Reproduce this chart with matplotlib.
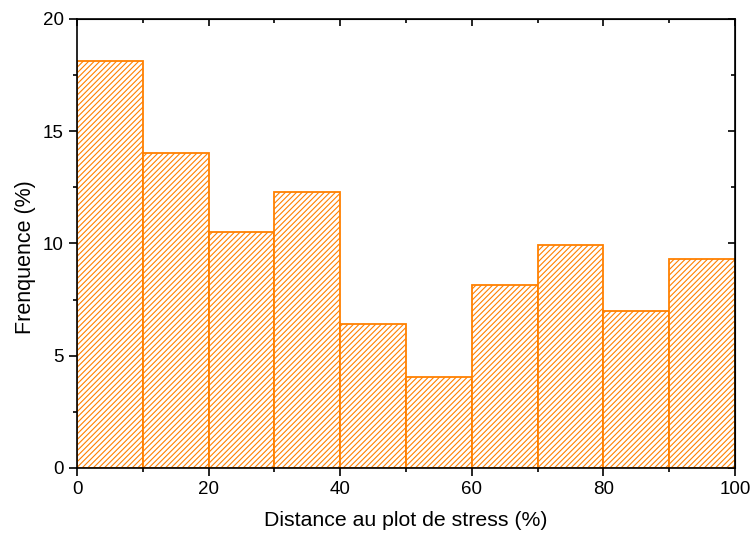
import matplotlib
matplotlib.use("Agg")
from matplotlib import pyplot as plt
from matplotlib.ticker import MultipleLocator
import numpy as np

bin_edges = [0, 10, 20, 30, 40, 50, 60, 70, 80, 90, 100]
freq = [18.13, 14.03, 10.51, 12.29, 6.41, 4.06, 8.15, 9.93, 6.99, 9.31]
x_label = "Distance au plot de stress (%)"
y_label = "Frenquence (%)"

plt.rcParams['font.family'] = ['Liberation Sans', 'DejaVu Sans']
plt.rcParams['hatch.linewidth'] = 0.8
plt.rcParams['hatch.color'] = '#FF9A33'

fig = plt.figure(figsize=(7.53, 5.36), dpi=100)
ax = fig.add_axes([0.1023, 0.1269, 0.8737, 0.8377])

left = np.array(bin_edges[:-1])
width = np.diff(bin_edges)
ax.bar(left, freq, width=width, align='edge', facecolor='white',
       edgecolor='#FF8000', linewidth=1.3, hatch='//////')

ax.set_xlim(0, 100)
ax.set_ylim(0, 20)
ax.xaxis.set_major_locator(MultipleLocator(20))
ax.xaxis.set_minor_locator(MultipleLocator(10))
ax.yaxis.set_major_locator(MultipleLocator(5))
ax.yaxis.set_minor_locator(MultipleLocator(2.5))

for s in ax.spines.values():
    s.set_linewidth(1.2)

ax.tick_params(which='both', direction='out', width=1.2, labelsize=13.5)
ax.tick_params(which='major', length=6)
ax.tick_params(which='minor', length=3)

# ticks on top and right go inward, without labels
sec_x = ax.secondary_xaxis('top')
sec_x.xaxis.set_major_locator(MultipleLocator(20))
sec_x.xaxis.set_minor_locator(MultipleLocator(10))
sec_x.tick_params(which='both', direction='in', width=1.2, labeltop=False)
sec_x.tick_params(which='major', length=5)
sec_x.tick_params(which='minor', length=3)
sec_y = ax.secondary_yaxis('right')
sec_y.yaxis.set_major_locator(MultipleLocator(5))
sec_y.yaxis.set_minor_locator(MultipleLocator(2.5))
sec_y.tick_params(which='both', direction='in', width=1.2, labelright=False)
sec_y.tick_params(which='major', length=5)
sec_y.tick_params(which='minor', length=3)

ax.set_xlabel(x_label, fontsize=15.3, labelpad=9)
ax.set_ylabel(y_label, fontsize=15.5)
ax.yaxis.set_label_coords(-0.062, 0.47)

fig.savefig("out.png", dpi=100)
